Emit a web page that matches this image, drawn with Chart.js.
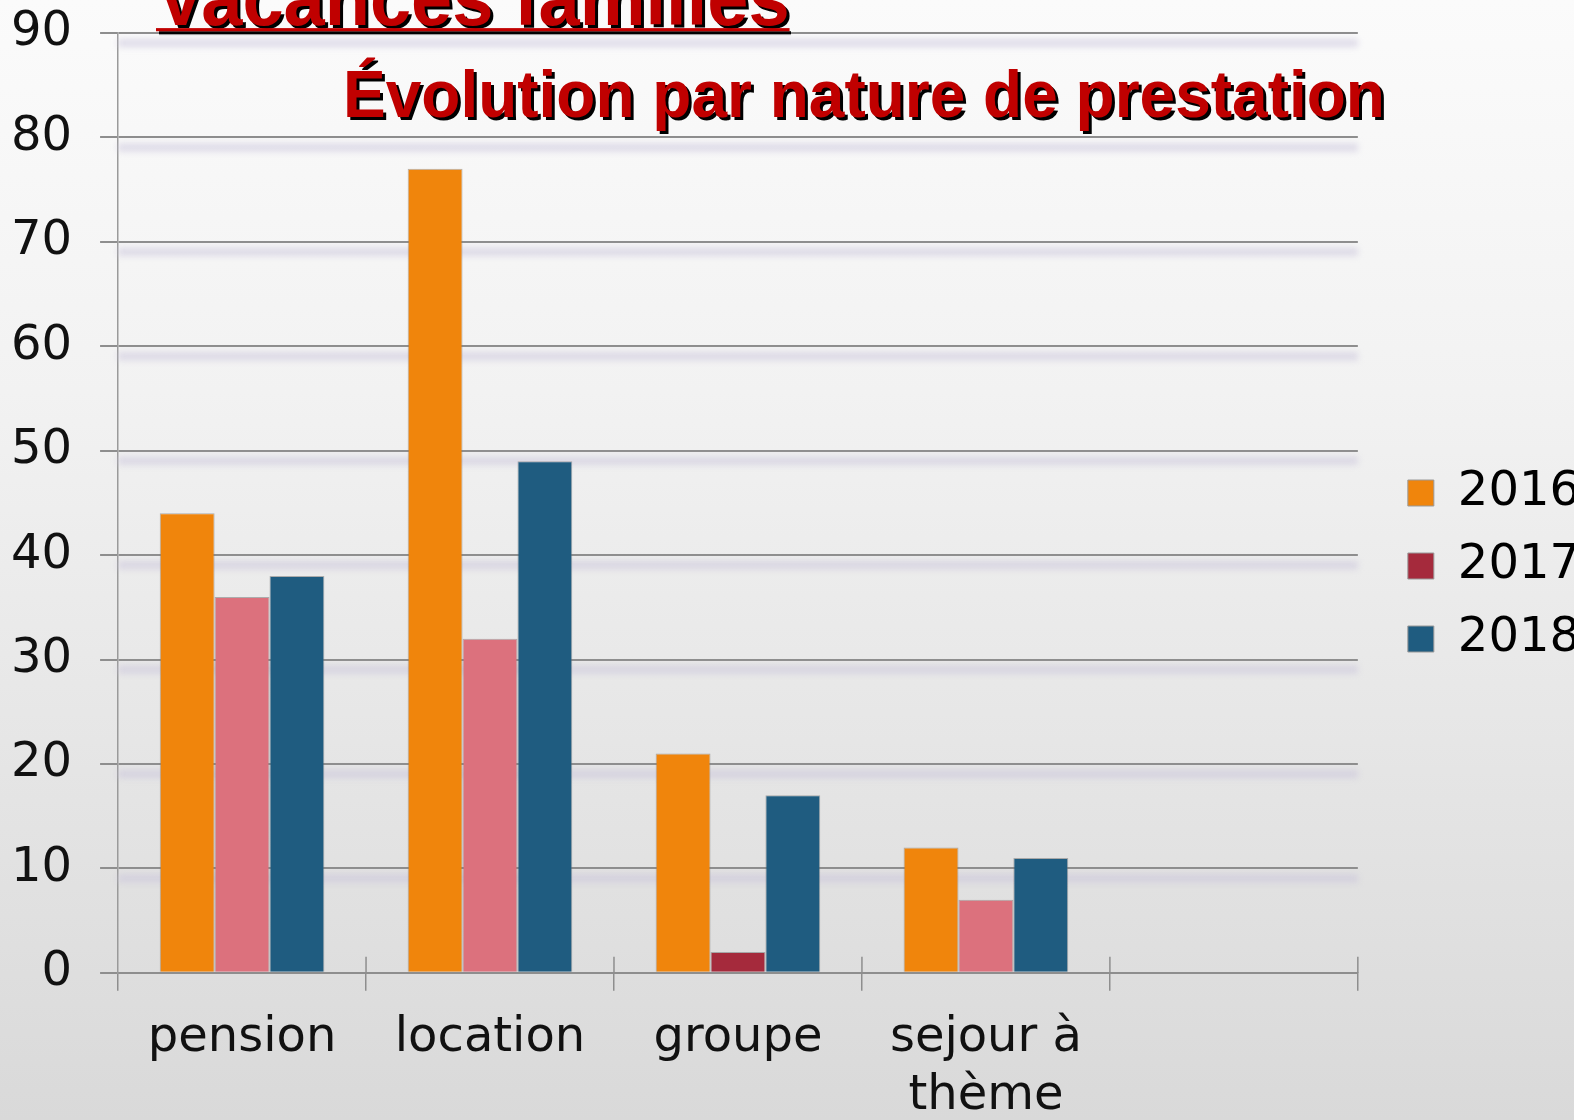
<!DOCTYPE html>
<html>
<head>
<meta charset="utf-8">
<script src="https://cdn.jsdelivr.net/npm/chart.js@4/dist/chart.umd.min.js"></script>
<style>
    html, body { margin: 0; padding: 0; }
    body {
        width: 1574px; height: 1120px; overflow: hidden; position: relative;
        background: linear-gradient(to bottom, #fbfbfb 0%, #f2f2f2 35%, #d9d9d9 100%);
    }
    #chart { position: absolute; left: 0; top: 0; }
    .ttl {
        position: absolute; white-space: nowrap; line-height: 1;
        font-family: "Liberation Sans", Arial, sans-serif; font-weight: bold;
        color: #c00000; text-shadow: 3px 3px 0 #000;
        transform-origin: 0 85%; transform: scaleY(1.05);
    }
    #title {
        left: 156px; top: -37px; font-size: 74px;
        text-decoration: underline; text-decoration-thickness: 3px; text-underline-offset: 3px;
    }
    #subtitle { left: 343px; top: 63px; font-size: 64px; }
</style>
</head>
<body>
<canvas id="chart" width="1574" height="1120"></canvas>
<div id="title" class="ttl">Vacances familles</div>
<div id="subtitle" class="ttl">Évolution par nature de prestation</div>
<script>
// data
var categories = ['pension', 'location', 'groupe', ['sejour à', 'thème'], ''];
var years = ['2016', '2017', '2018'];
var values2016 = [44, 77, 21, 12, null];
var values2017 = [36, 32, 2, 7, null];
var values2018 = [38, 49, 17, 11, null];
var yTicks = [0, 10, 20, 30, 40, 50, 60, 70, 80, 90];

var orange = '#f0850c';
var pink = '#dc717d';
var darkRed = '#a52a3c';
var blue = '#1f5c80';
var gridGray = '#8e8e8e';
var labelFont = 'DejaVu Sans';

// 2017: la barre "groupe" est plus foncée
var colors2017 = values2017.map(function (v, i) { return i === 2 ? darkRed : pink; });

// bande mauve floue sous chaque ligne de grille + graduations au-dessus de l'axe x
var gridGlow = {
    id: 'gridGlow',
    beforeDatasetsDraw: function (chart) {
        var ctx = chart.ctx, area = chart.chartArea, y = chart.scales.y;
        ctx.save();
        ctx.filter = 'blur(3px)';
        ctx.fillStyle = 'rgba(200,194,218,0.55)';
        yTicks.forEach(function (t) {
            if (t === 0) return;
            var py = y.getPixelForValue(t);
            ctx.fillRect(area.left, py + 6, area.right - area.left, 8);
        });
        ctx.restore();
        var x = chart.scales.x;
        ctx.save();
        ctx.strokeStyle = gridGray;
        ctx.lineWidth = 1.5;
        for (var i = 1; i <= categories.length; i++) {
            var px = (x.getPixelForValue(i - 1) + x.getPixelForValue(i)) / 2;
            if (i === categories.length) px = area.right;
            ctx.beginPath();
            ctx.moveTo(px, area.bottom - 16);
            ctx.lineTo(px, area.bottom);
            ctx.stroke();
        }
        ctx.restore();
    }
};

// décale la légende vers la droite
var legendShift = {
    id: 'legendShift',
    afterLayout: function (chart) {
        var lg = chart.legend;
        lg.left += 25; lg.right += 25;
        lg.top -= 23; lg.bottom -= 23;
    }
};

var ctx = document.getElementById('chart').getContext('2d');
var chart = new Chart(ctx, {
    type: 'bar',
    data: {
        labels: categories,
        datasets: [
            { label: years[0], data: values2016, backgroundColor: orange },
            { label: years[1], data: values2017, backgroundColor: colors2017 },
            { label: years[2], data: values2018, backgroundColor: blue }
        ]
    },
    options: {
        responsive: false,
        animation: false,
        devicePixelRatio: 1,
        layout: { padding: { left: -17, right: 9, top: 33, bottom: -25 } },
        datasets: {
            bar: {
                categoryPercentage: 0.664,
                barPercentage: 1.0,
                borderColor: 'rgba(120,120,120,0.55)',
                borderWidth: 1
            }
        },
        plugins: {
            legend: {
                position: 'right',
                labels: {
                    boxWidth: 26,
                    boxHeight: 26,
                    padding: 25,
                    color: '#111',
                    font: { family: labelFont, size: 48 },
                    generateLabels: function (chart) {
                        var fills = [orange, darkRed, blue];
                        return years.map(function (y, i) {
                            return {
                                text: y, fillStyle: fills[i], strokeStyle: '#999',
                                lineWidth: 1, datasetIndex: i, hidden: false
                            };
                        });
                    }
                }
            },
            title: { display: false },
            tooltip: { enabled: false }
        },
        scales: {
            x: {
                offset: true,
                grid: {
                    display: true, drawOnChartArea: false, drawTicks: true,
                    tickLength: 18, color: gridGray, lineWidth: 1.5, offset: true
                },
                border: { display: true, color: gridGray, width: 2 },
                ticks: {
                    color: '#111', padding: 19, maxRotation: 0, autoSkip: false,
                    font: { family: labelFont, size: 48, lineHeight: 1.21 }
                }
            },
            y: {
                min: 0,
                max: 90,
                afterBuildTicks: function (scale) {
                    scale.ticks = yTicks.map(function (v) { return { value: v }; });
                },
                grid: { color: gridGray, lineWidth: 2, tickLength: 18, drawTicks: true },
                border: { display: true, color: '#9a9a9a', width: 1.5 },
                ticks: {
                    color: '#111', padding: 28,
                    font: { family: labelFont, size: 48, lineHeight: 0.1 }
                }
            }
        }
    },
    plugins: [gridGlow, legendShift]
});
</script>
</body>
</html>
